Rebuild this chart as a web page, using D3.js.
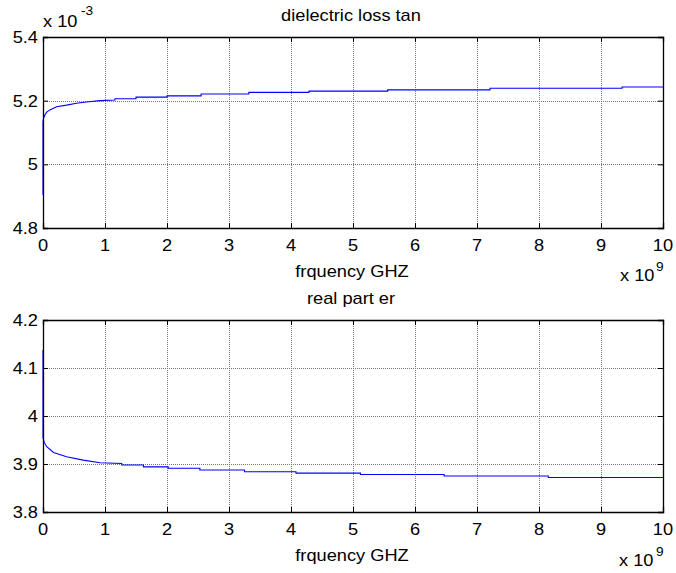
<!DOCTYPE html>
<html>
<head>
<meta charset="utf-8">
<script src="https://cdn.jsdelivr.net/npm/d3@7"></script>
<style>
html,body{margin:0;padding:0;background:#fff;}
svg{display:block;}
text{font-family:"Liberation Sans",Arial,sans-serif;fill:#000;}
</style>
</head>
<body>
<svg id="chart" width="676" height="573"></svg>
<script>
// ---- data (frequency in units of 1e9 Hz) ----
const xTicks = [0,1,2,3,4,5,6,7,8,9,10];

// dielectric loss tan (values in units of 1e-3)
const lossFreq = [0, 0, 0.01, 0.03, 0.06, 0.11, 0.22, 0.38, 0.54, 0.70, 0.92, 1.16, 1.16, 1.5, 1.5, 2.0, 2.0, 2.55, 2.55, 3.32, 3.32, 4.29, 4.29, 5.56, 5.56, 7.21, 7.21, 9.34, 9.34, 10];
const lossVal  = [4.904, 5.135, 5.145, 5.155, 5.164, 5.171, 5.181, 5.186, 5.192, 5.196, 5.200, 5.202, 5.206, 5.206, 5.211, 5.211, 5.215, 5.215, 5.221, 5.221, 5.226, 5.226, 5.230, 5.230, 5.234, 5.234, 5.239, 5.239, 5.243, 5.243];
const lossYTicks = [4.8, 5.0, 5.2, 5.4];
const lossYLabels = ["4.8", "5", "5.2", "5.4"];

// real part er
const erFreq = [0, 0, 0.02, 0.06, 0.17, 0.38, 0.65, 0.92, 1.27, 1.27, 1.62, 1.62, 2.02, 2.02, 2.53, 2.53, 3.25, 3.25, 4.08, 4.08, 5.12, 5.12, 6.47, 6.47, 8.15, 8.15, 10];
const erVal  = [4.1375, 3.955, 3.945, 3.936, 3.924, 3.915, 3.908, 3.9027, 3.901, 3.898, 3.898, 3.894, 3.894, 3.891, 3.891, 3.8875, 3.8875, 3.884, 3.884, 3.881, 3.881, 3.878, 3.878, 3.875, 3.875, 3.872, 3.872];
const erYTicks = [3.8, 3.9, 4.0, 4.1, 4.2];
const erYLabels = ["3.8", "3.9", "4", "4.1", "4.2"];

const svg = d3.select("#chart");
const FS = 16, SX = 1.14;

function txt(g, x, y, s, anchor, size, baseline) {
  const t = g.append("text")
    .attr("transform", `translate(${x},${y}) scale(${SX},1)`)
    .attr("text-anchor", anchor || "middle")
    .attr("font-size", size || FS)
    .text(s);
  if (baseline) t.attr("dominant-baseline", baseline);
  return t;
}

function panel(cfg) {
  const {left, right, top, bottom, xs, ys, yTicks, yLabels, yDomain, title, sup} = cfg;
  const x = d3.scaleLinear().domain([0, 10]).range([left, right]);
  const y = d3.scaleLinear().domain(yDomain).range([bottom, top]);
  const g = svg.append("g");

  // grid
  const grid = g.append("g").attr("stroke", "#777").attr("stroke-width", 1).attr("stroke-dasharray", "1,1").attr("shape-rendering", "crispEdges");
  xTicks.slice(1, -1).forEach(v => {
    grid.append("line").attr("x1", Math.round(x(v)) + 0.5).attr("x2", Math.round(x(v)) + 0.5).attr("y1", top).attr("y2", bottom);
  });
  yTicks.slice(1, -1).forEach(v => {
    grid.append("line").attr("y1", Math.round(y(v)) + 0.5).attr("y2", Math.round(y(v)) + 0.5).attr("x1", left).attr("x2", right);
  });

  // data line
  const line = d3.line().x((d, i) => x(xs[i])).y((d, i) => y(d)).curve(d3.curveLinear);
  g.append("path").datum(cfg.vals).attr("d", line).attr("fill", "none").attr("stroke", "#0000ff").attr("stroke-width", 1.1);

  // axes via d3
  const tl = 5;
  const axB = d3.axisBottom(x).tickValues(xTicks).tickSize(-tl).tickFormat("");
  const axT = d3.axisTop(x).tickValues(xTicks).tickSize(-tl).tickFormat("");
  const axL = d3.axisLeft(y).tickValues(yTicks).tickSize(-tl).tickFormat("");
  const axR = d3.axisRight(y).tickValues(yTicks).tickSize(-tl).tickFormat("");
  [[axB, `translate(0,${bottom})`], [axT, `translate(0,${top})`], [axL, `translate(${left},0)`], [axR, `translate(${right},0)`]].forEach(([ax, tr]) => {
    const a = g.append("g").attr("transform", tr).call(ax);
    a.select(".domain").attr("stroke", "#000").attr("stroke-width", 1.3);
    a.selectAll(".tick line").attr("stroke", "#000").attr("stroke-width", 1);
  });

  // tick labels
  xTicks.forEach(v => txt(g, x(v), bottom + 23, String(v), "middle"));
  yTicks.forEach((v, i) => txt(g, left - 5, y(v) + 6, yLabels[i], "end"));

  // title & labels
  txt(g, (left + right) / 2 - 2, top - 16, title, "middle");
  txt(g, (left + right) / 2 - 1, bottom + 49, "frquency GHZ", "middle");
  return {g, x, y};
}

const p1 = panel({left: 43, right: 663, top: 37, bottom: 228, xs: lossFreq, vals: lossVal, ys: null,
  yTicks: lossYTicks, yLabels: lossYLabels, yDomain: [4.8, 5.4], title: "dielectric loss tan"});
const p2 = panel({left: 43, right: 663, top: 320, bottom: 512, xs: erFreq, vals: erVal, ys: null,
  yTicks: erYTicks, yLabels: erYLabels, yDomain: [3.8, 4.2], title: "real part er"});

// exponent labels
txt(svg, 43, 27, "x 10", "start");
txt(svg, 81, 15, "-3", "start", 12);
txt(svg, 620, 281, "x 10", "start");
txt(svg, 656, 271, "9", "start", 12);
txt(svg, 619, 566, "x 10", "start");
txt(svg, 656, 556, "9", "start", 12);
</script>
</body>
</html>
